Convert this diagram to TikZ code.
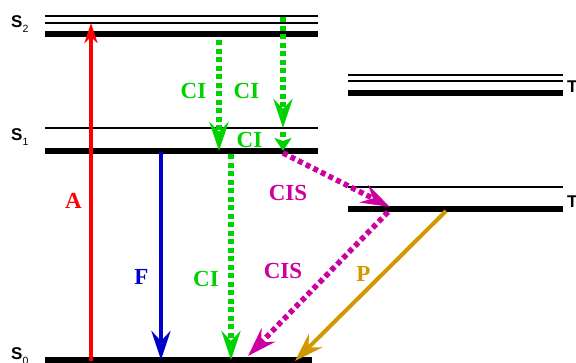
\documentclass[tikz,border=0pt]{standalone}
\usepackage{fontspec}
\setmainfont{Liberation Serif}
\setsansfont{Liberation Sans}
\usetikzlibrary{arrows.meta}
\definecolor{cigreen}{RGB}{0,210,0}
\definecolor{cismag}{RGB}{204,0,160}
\definecolor{pgold}{RGB}{210,152,0}
\definecolor{fblue}{RGB}{0,0,200}
\tikzset{
  thinlvl/.style={line width=2.3pt},
  thicklvl/.style={line width=6pt},
  bighead/.style={-{Stealth[length=29pt,width=19pt,inset=10pt]}},
  solidarr/.style={line width=4pt, bighead},
  dotarr/.style={line width=5.5pt, dash pattern=on 5pt off 3.5pt, bighead},
  shorthead/.style={-{Stealth[length=13pt,width=17pt,inset=3pt]}},
  proc/.style={font=\fontsize{23}{23}\selectfont\bfseries, inner sep=0pt},
  lvllabel/.style={font=\sffamily\bfseries\fontsize{17}{17}\selectfont, inner sep=0pt}
}
\newcommand{\lvlname}[2]{#1\raisebox{-5pt}{\fontsize{10.5}{10.5}\selectfont\mdseries #2}}
\begin{document}
\begin{tikzpicture}[x=1pt,y=-1pt]
\useasboundingbox (0,0) rectangle (576,362);
% singlet manifold
\draw[thinlvl] (45,16) -- (318,16);
\draw[thinlvl] (45,23) -- (318,23);
\draw[thicklvl] (45,34) -- (318,34);
\draw[thinlvl] (45,128) -- (318,128);
\draw[thicklvl] (45,151) -- (318,151);
\draw[thicklvl] (45,360) -- (312,360);
% triplet manifold
\draw[thinlvl] (348,75) -- (563,75);
\draw[thinlvl] (348,81) -- (563,81);
\draw[thicklvl] (348,93) -- (563,93);
\draw[thinlvl] (348,187) -- (563,187);
\draw[thicklvl] (348,209) -- (563,209);
% level labels
\node[lvllabel, anchor=base west] (s2) at (11,27) {\lvlname{S}{2}};
\node[lvllabel, anchor=base west] (s1) at (11,140) {\lvlname{S}{1}};
\node[lvllabel, anchor=base west] (s0) at (11,359) {\lvlname{S}{0}};
\node[lvllabel, anchor=base west] (t2) at (567,92) {\lvlname{T}{2}};
\node[lvllabel, anchor=base west] (t1) at (567,207) {\lvlname{T}{1}};
% arrow end points
\coordinate (a0) at (91,361);
\coordinate (a1) at (91,23);
\coordinate (f0) at (161,152);
\coordinate (f1) at (161,360);
\coordinate (c10) at (219,40);
\coordinate (c11) at (219,151);
\coordinate (c20) at (283,17);
\coordinate (c21) at (283,128);
\coordinate (c22) at (283,132);
\coordinate (c23) at (283,151);
\coordinate (c30) at (231,154);
\coordinate (c31) at (231,360);
\coordinate (i0) at (283,153);
\coordinate (i1) at (390,207);
\coordinate (j0) at (388,212);
\coordinate (j1) at (248,356);
\coordinate (p0) at (446,211);
\coordinate (p1) at (295,361);
% transitions
\draw[solidarr, red, -{Stealth[length=20pt,width=13pt,inset=6pt]}] (a0) -- (a1);
\draw[solidarr, fblue, line width=4.5pt] (f0) -- (f1);
\draw[dotarr, cigreen] (c10) -- (c11);
\draw[dotarr, cigreen] (c20) -- (c21);
\draw[dotarr, cigreen, shorthead] (c22) -- (c23);
\draw[dotarr, cigreen] (c30) -- (c31);
\draw[dotarr, cismag] (i0) -- (i1);
\draw[dotarr, cismag] (j0) -- (j1);
\draw[solidarr, pgold] (p0) -- (p1);
% process labels
\node[proc, red] (la) at (73.5,200.5) {A};
\node[proc, fblue] (lf) at (141.5,276.5) {F};
\node[proc, cigreen] (lci1) at (193.5,90.5) {CI};
\node[proc, cigreen] (lci2) at (246.5,90.5) {CI};
\node[proc, cigreen] (lci3) at (249.5,139.5) {CI};
\node[proc, cigreen] (lci4) at (206,278.5) {CI};
\node[proc, cismag] (lcis1) at (288,192.5) {CIS};
\node[proc, cismag] (lcis2) at (283,270.5) {CIS};
\node[proc, pgold] (lp) at (363.5,273.5) {P};
\end{tikzpicture}
\end{document}
